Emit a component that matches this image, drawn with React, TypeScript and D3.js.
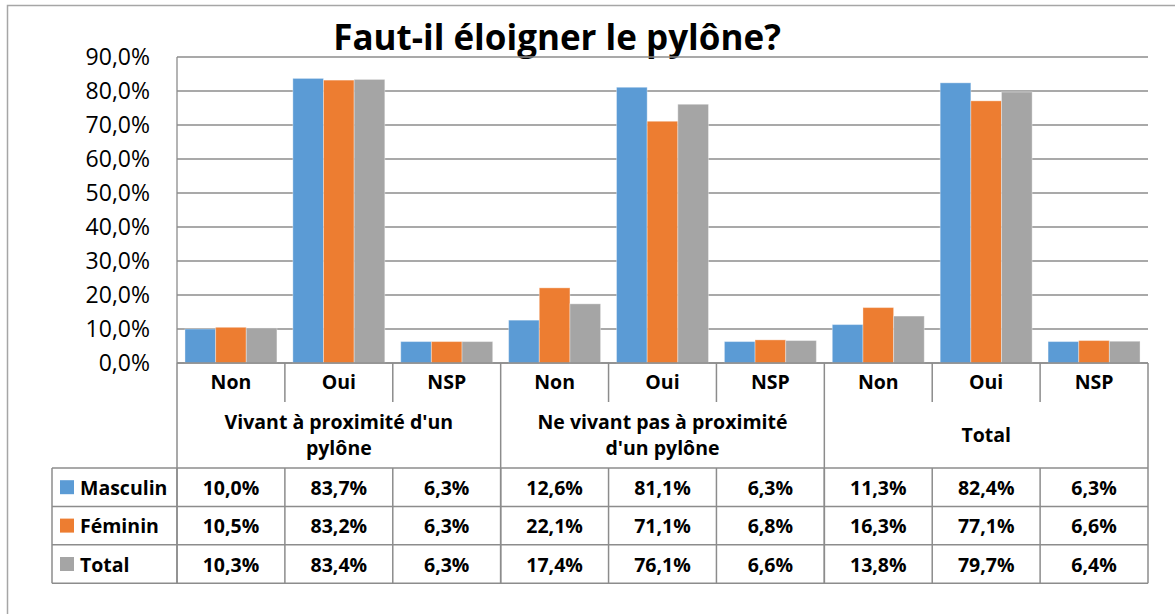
import * as d3 from 'd3'

const answers = ['Non', 'Oui', 'NSP']
const groupLabels = [
  ["Vivant à proximité d'un", 'pylône'],
  ['Ne vivant pas à proximité', "d'un pylône"],
  ['Total'],
]
const seriesNames = ['Masculin', 'Féminin', 'Total']
const masculin = [10.0, 83.7, 6.3, 12.6, 81.1, 6.3, 11.3, 82.4, 6.3]
const feminin = [10.5, 83.2, 6.3, 22.1, 71.1, 6.8, 16.3, 77.1, 6.6]
const total = [10.3, 83.4, 6.3, 17.4, 76.1, 6.6, 13.8, 79.7, 6.4]
const yTicks = [0, 10, 20, 30, 40, 50, 60, 70, 80, 90]

const colors = ['#5B9BD5', '#ED7D31', '#A5A5A5']
const FONT = "'Open Sans', sans-serif"

const fmt = (v: number) => v.toFixed(1).replace('.', ',') + '%'

export default function App() {
  const W = 1175
  const H = 614
  const left = 177
  const right = 1148
  const top = 57
  const bottom = 363
  const catRowBottom = 402
  const groupRowBottom = 468
  const rowH = 38.4
  const legendLeft = 52
  const fs = 19.5

  const series = [masculin, feminin, total]
  const cats = d3.range(9)
  const x = d3.scaleBand<number>().domain(cats).range([left, right]).paddingInner(0).paddingOuter(0)
  const bw = x.bandwidth()
  const xs = d3.scaleBand<number>().domain([0, 1, 2]).range([0, bw]).paddingInner(0).paddingOuter(0.26)
  const y = d3.scaleLinear().domain([0, 90]).range([bottom, top])
  const tableBottom = groupRowBottom + rowH * 3
  const lineColor = '#8c8c8c'

  return (
    <svg width={W} height={H} style={{ position: 'absolute', left: 0, top: 0 }}>
      <rect x={0} y={0} width={W} height={H} fill="#fff" />
      <rect x={7.5} y={5.5} width={W + 10} height={H + 10} fill="none" stroke="#a6a6a6" strokeWidth={1.5} />

      <text x={557} y={50} textAnchor="middle" fontFamily={FONT} fontWeight="bold" fontSize={35} fill="#000">
        Faut-il éloigner le pylône?
      </text>

      {/* gridlines */}
      {yTicks.map((t) => (
        <line key={t} x1={left} x2={right} y1={y(t)} y2={y(t)} stroke="#8c8c8c" strokeWidth={1.3} />
      ))}
      <line x1={left} x2={left} y1={top} y2={bottom} stroke={lineColor} strokeWidth={1.3} />
      {yTicks.map((t) => (
        <text key={t} x={150} y={y(t) + 8} textAnchor="end" fontFamily={FONT} fontSize={23} fill="#000">
          {fmt(t)}
        </text>
      ))}

      {/* bars */}
      {series.map((vals, si) =>
        vals.map((v, ci) => (
          <rect
            key={si + '-' + ci}
            x={(x(ci) as number) + (xs(si) as number)}
            y={y(v)}
            width={xs.bandwidth()}
            height={bottom - y(v)}
            fill={colors[si]}
            stroke="#fff"
            strokeOpacity={0.35}
            strokeWidth={1}
          />
        ))
      )}

      {/* table lines */}
      <line x1={left} x2={right} y1={bottom} y2={bottom} stroke={lineColor} strokeWidth={1.5} />
      {cats.map((c) => (
        <line key={'cv' + c} x1={x(c) as number} x2={x(c) as number} y1={bottom} y2={c % 3 === 0 ? tableBottom : catRowBottom} stroke={lineColor} strokeWidth={1.5} />
      ))}
      {cats.map((c) => (
        <line key={'dv' + c} x1={x(c) as number} x2={x(c) as number} y1={groupRowBottom} y2={tableBottom} stroke={lineColor} strokeWidth={1.5} />
      ))}
      <line x1={right} x2={right} y1={bottom} y2={tableBottom} stroke={lineColor} strokeWidth={1.5} />
      <line x1={legendLeft} x2={legendLeft} y1={groupRowBottom} y2={tableBottom} stroke={lineColor} strokeWidth={1.5} />
      {[0, 1, 2, 3].map((r) => (
        <line key={'h' + r} x1={legendLeft} x2={right} y1={groupRowBottom + r * rowH} y2={groupRowBottom + r * rowH} stroke={lineColor} strokeWidth={1.5} />
      ))}

      {/* category labels */}
      {cats.map((c) => (
        <text key={'cl' + c} x={(x(c) as number) + bw / 2} y={389} textAnchor="middle" fontFamily={FONT} fontWeight="bold" fontSize={fs} fill="#000">
          {answers[c % 3]}
        </text>
      ))}

      {/* group labels */}
      {groupLabels.map((lines, gi) => {
        const cx = (x(gi * 3 + 1) as number) + bw / 2
        const mid = (catRowBottom + groupRowBottom) / 2
        const lh = 26
        return lines.map((ln, li) => (
          <text
            key={'g' + gi + li}
            x={cx}
            y={mid + (li - (lines.length - 1) / 2) * lh + 7}
            textAnchor="middle"
            fontFamily={FONT}
            fontWeight="bold"
            fontSize={fs}
            fill="#000"
          >
            {ln}
          </text>
        ))
      })}

      {/* data rows */}
      {series.map((vals, si) => {
        const cy = groupRowBottom + si * rowH + rowH / 2
        const ry = cy + 7.5
        return (
          <g key={'row' + si}>
            <rect x={60} y={cy - 7} width={14} height={14} fill={colors[si]} />
            <text x={80} y={ry} fontFamily={FONT} fontWeight="bold" fontSize={fs} fill="#000">
              {seriesNames[si]}
            </text>
            {vals.map((v, ci) => (
              <text key={ci} x={(x(ci) as number) + bw / 2} y={ry} textAnchor="middle" fontFamily={FONT} fontWeight="bold" fontSize={fs} fill="#000">
                {fmt(v)}
              </text>
            ))}
          </g>
        )
      })}
    </svg>
  )
}
